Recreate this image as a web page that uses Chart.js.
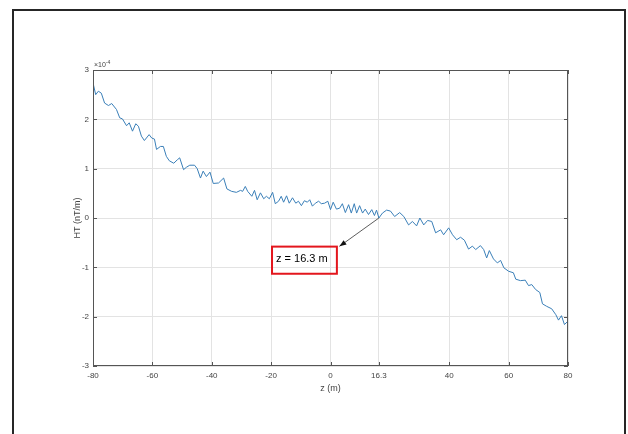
<!DOCTYPE html>
<html lang="en">
<head>
    <meta charset="UTF-8">
    <title>HT profile</title>
    <script src="https://cdn.jsdelivr.net/npm/chart.js"></script>
    <style>
        body { margin: 0; background: #fff; overflow: hidden; }
        .wrap { position: relative; width: 628px; height: 434px; }
        .frame { position: absolute; left: 12px; top: 9px; width: 610px; height: 440px; border: 2px solid #262626; }
        canvas { position: absolute; left: 0; top: 0; }
    </style>
</head>
<body>
    <div class="wrap">
        <div class="frame"></div>
        <canvas id="htChart" width="628" height="434"></canvas>
    </div>

    <script>
        // z positions (m) and HT values (x 1e-4 nT/m)
        const zVals = [-80, -79.1, -78.2, -77.2, -76.1, -74.8, -73.7, -72.1, -71.0, -70.1,
            -68.7, -67.8, -66.7, -65.6, -64.7, -63.7, -62.7, -61.1, -60.2, -59.3,
            -58.6, -57.3, -56.3, -55.3, -54.3, -52.8, -51.6, -50.8, -49.5, -48.5,
            -47.4, -45.8, -44.9, -43.8, -42.9, -41.8, -40.6, -39.5, -37.7, -36.0,
            -34.9, -33.3, -31.7, -30.3, -29.6, -28.7, -27.9, -26.5, -25.6, -24.7,
            -23.6, -22.5, -21.6, -20.6, -19.5, -18.6, -17.5, -16.6, -15.8, -14.8,
            -13.9, -12.8, -11.7, -10.8, -9.8, -8.8, -7.8, -7.0, -6.1, -5.1,
            -4.0, -3.1, -2.0, -0.9, 0.0, 0.9, 2.0, 3.1, 4.0, 5.0,
            6.1, 7.0, 8.0, 8.8, 9.8, 10.8, 11.7, 12.8, 13.9, 14.8,
            15.5, 16.3, 17.5, 18.9, 20.2, 21.6, 23.3, 24.7, 26.3, 27.6,
            29.0, 30.1, 31.4, 32.7, 34.1, 35.4, 37.1, 38.1, 39.8, 41.1,
            42.5, 43.8, 45.1, 46.5, 47.8, 48.9, 50.5, 51.6, 52.6, 53.5,
            54.9, 56.2, 57.3, 58.4, 60.0, 61.6, 62.4, 64.0, 65.6, 66.7,
            67.8, 69.1, 70.5, 71.4, 72.8, 74.5, 75.9, 76.8, 77.8, 78.8, 80.0];
        const htVals = [2.74, 2.50, 2.57, 2.53, 2.33, 2.28, 2.32, 2.20, 2.03, 2.01,
            1.87, 1.93, 1.76, 1.91, 1.86, 1.66, 1.57, 1.69, 1.62, 1.60,
            1.39, 1.45, 1.45, 1.25, 1.16, 1.11, 1.18, 1.22, 0.98, 1.03,
            1.07, 1.07, 1.00, 0.81, 0.95, 0.84, 0.93, 0.70, 0.71, 0.81,
            0.59, 0.54, 0.52, 0.56, 0.54, 0.64, 0.54, 0.44, 0.56, 0.37,
            0.51, 0.39, 0.44, 0.39, 0.52, 0.29, 0.34, 0.44, 0.32, 0.45,
            0.30, 0.41, 0.30, 0.34, 0.25, 0.35, 0.32, 0.37, 0.24, 0.30,
            0.34, 0.29, 0.30, 0.34, 0.17, 0.32, 0.18, 0.20, 0.29, 0.11,
            0.27, 0.10, 0.29, 0.10, 0.25, 0.10, 0.18, 0.07, 0.17, 0.05,
            0.16, 0.00, 0.10, 0.16, 0.14, 0.03, 0.11, 0.03, -0.14, -0.07,
            -0.16, 0.00, -0.14, -0.05, -0.07, -0.30, -0.24, -0.34, -0.20, -0.34,
            -0.44, -0.39, -0.45, -0.63, -0.57, -0.64, -0.56, -0.64, -0.81, -0.66,
            -0.83, -0.91, -0.86, -1.01, -1.08, -1.11, -1.24, -1.27, -1.26, -1.37,
            -1.35, -1.45, -1.51, -1.74, -1.79, -1.84, -1.96, -2.07, -1.98, -2.16, -2.09];
        const xTicks = [-80, -60, -40, -20, 0, 16.3, 40, 60, 80];
        const yTicks = [-3, -2, -1, 0, 1, 2, 3];

        const axisColor = '#555555';
        const gridColor = '#e3e3e3';

        // MATLAB style box, inward ticks, exponent label and the annotation
        const matlabDecor = {
            id: 'matlabDecor',
            afterDraw(chart) {
                const { ctx, chartArea: a, scales: { x, y } } = chart;
                ctx.save();
                ctx.strokeStyle = axisColor;
                ctx.lineWidth = 1;
                ctx.strokeRect(a.left + 0.5, a.top + 0.5, a.right - a.left - 1, a.bottom - a.top - 1);
                ctx.beginPath();
                xTicks.forEach(v => {
                    const px = Math.round(x.getPixelForValue(v)) + 0.5;
                    ctx.moveTo(px, a.bottom); ctx.lineTo(px, a.bottom - 4);
                    ctx.moveTo(px, a.top); ctx.lineTo(px, a.top + 4);
                });
                yTicks.forEach(v => {
                    const py = Math.round(y.getPixelForValue(v)) + 0.5;
                    ctx.moveTo(a.left, py); ctx.lineTo(a.left + 4, py);
                    ctx.moveTo(a.right, py); ctx.lineTo(a.right - 4, py);
                });
                ctx.stroke();

                // x 10^-4 multiplier
                ctx.fillStyle = '#444';
                ctx.textBaseline = 'alphabetic';
                ctx.font = '7px "Liberation Sans", Arial, sans-serif';
                ctx.fillText('\u00d710', a.left + 1, a.top - 3);
                const w = ctx.measureText('\u00d710').width;
                ctx.font = '5px "Liberation Sans", Arial, sans-serif';
                ctx.fillText('-4', a.left + 1 + w, a.top - 6);

                // annotation arrow
                const x0 = x.getPixelForValue(16.3), y0 = y.getPixelForValue(0);
                const x1 = x.getPixelForValue(3.0), y1 = y.getPixelForValue(-0.575);
                ctx.strokeStyle = '#333';
                ctx.lineWidth = 0.8;
                ctx.beginPath();
                ctx.moveTo(x0, y0); ctx.lineTo(x1, y1);
                ctx.stroke();
                const ang = Math.atan2(y1 - y0, x1 - x0);
                ctx.fillStyle = '#111';
                ctx.beginPath();
                ctx.moveTo(x1, y1);
                ctx.lineTo(x1 - 7 * Math.cos(ang) + 2.6 * Math.sin(ang), y1 - 7 * Math.sin(ang) - 2.6 * Math.cos(ang));
                ctx.lineTo(x1 - 7 * Math.cos(ang) - 2.6 * Math.sin(ang), y1 - 7 * Math.sin(ang) + 2.6 * Math.cos(ang));
                ctx.closePath();
                ctx.fill();

                // text box
                const bx0 = x.getPixelForValue(-19.7), bx1 = x.getPixelForValue(2.15);
                const by0 = y.getPixelForValue(-0.58), by1 = y.getPixelForValue(-1.13);
                ctx.strokeStyle = '#e3161d';
                ctx.lineWidth = 2;
                ctx.strokeRect(bx0, by0, bx1 - bx0, by1 - by0);
                ctx.fillStyle = '#000';
                ctx.font = '11px "Liberation Sans", Arial, sans-serif';
                ctx.textBaseline = 'middle';
                ctx.fillText('z = 16.3 m', bx0 + 4, (by0 + by1) / 2 - 1);
                ctx.restore();
            }
        };

        const ctx = document.getElementById('htChart').getContext('2d');
        const htChart = new Chart(ctx, {
            type: 'line',
            data: {
                datasets: [{
                    label: 'HT',
                    data: zVals.map((z, i) => ({ x: z, y: htVals[i] })),
                    borderColor: '#3a7fb8',
                    borderWidth: 1,
                    pointRadius: 0,
                    tension: 0,
                    fill: false
                }]
            },
            options: {
                responsive: false,
                animation: false,
                layout: { padding: { top: 70, right: 60, left: 0, bottom: 0 } },
                plugins: {
                    legend: { display: false },
                    tooltip: { enabled: false }
                },
                scales: {
                    x: {
                        type: 'linear',
                        min: -80,
                        max: 80,
                        afterBuildTicks: scale => { scale.ticks = xTicks.map(v => ({ value: v })); },
                        afterFit: scale => { scale.height = 68; },
                        grid: { color: gridColor, drawTicks: false },
                        border: { display: false },
                        ticks: {
                            color: '#444',
                            padding: 5,
                            maxRotation: 0,
                            font: { family: '"Liberation Sans", Arial, sans-serif', size: 8 },
                            callback: v => String(v)
                        },
                        title: {
                            display: true,
                            text: 'z (m)',
                            color: '#444',
                            font: { family: '"Liberation Sans", Arial, sans-serif', size: 9 },
                            padding: { top: 0, bottom: 40 }
                        }
                    },
                    y: {
                        min: -3,
                        max: 3,
                        afterBuildTicks: scale => { scale.ticks = yTicks.map(v => ({ value: v })); },
                        afterFit: scale => { scale.width = 93; },
                        grid: { color: gridColor, drawTicks: false },
                        border: { display: false },
                        ticks: {
                            color: '#444',
                            padding: 4,
                            font: { family: '"Liberation Sans", Arial, sans-serif', size: 8 },
                            callback: v => String(v)
                        },
                        title: {
                            display: true,
                            text: 'HT (nT/m)',
                            color: '#444',
                            font: { family: '"Liberation Sans", Arial, sans-serif', size: 9 },
                            padding: { top: 72, bottom: 0 }
                        }
                    }
                }
            },
            plugins: [matlabDecor]
        });
    </script>
</body>
</html>
